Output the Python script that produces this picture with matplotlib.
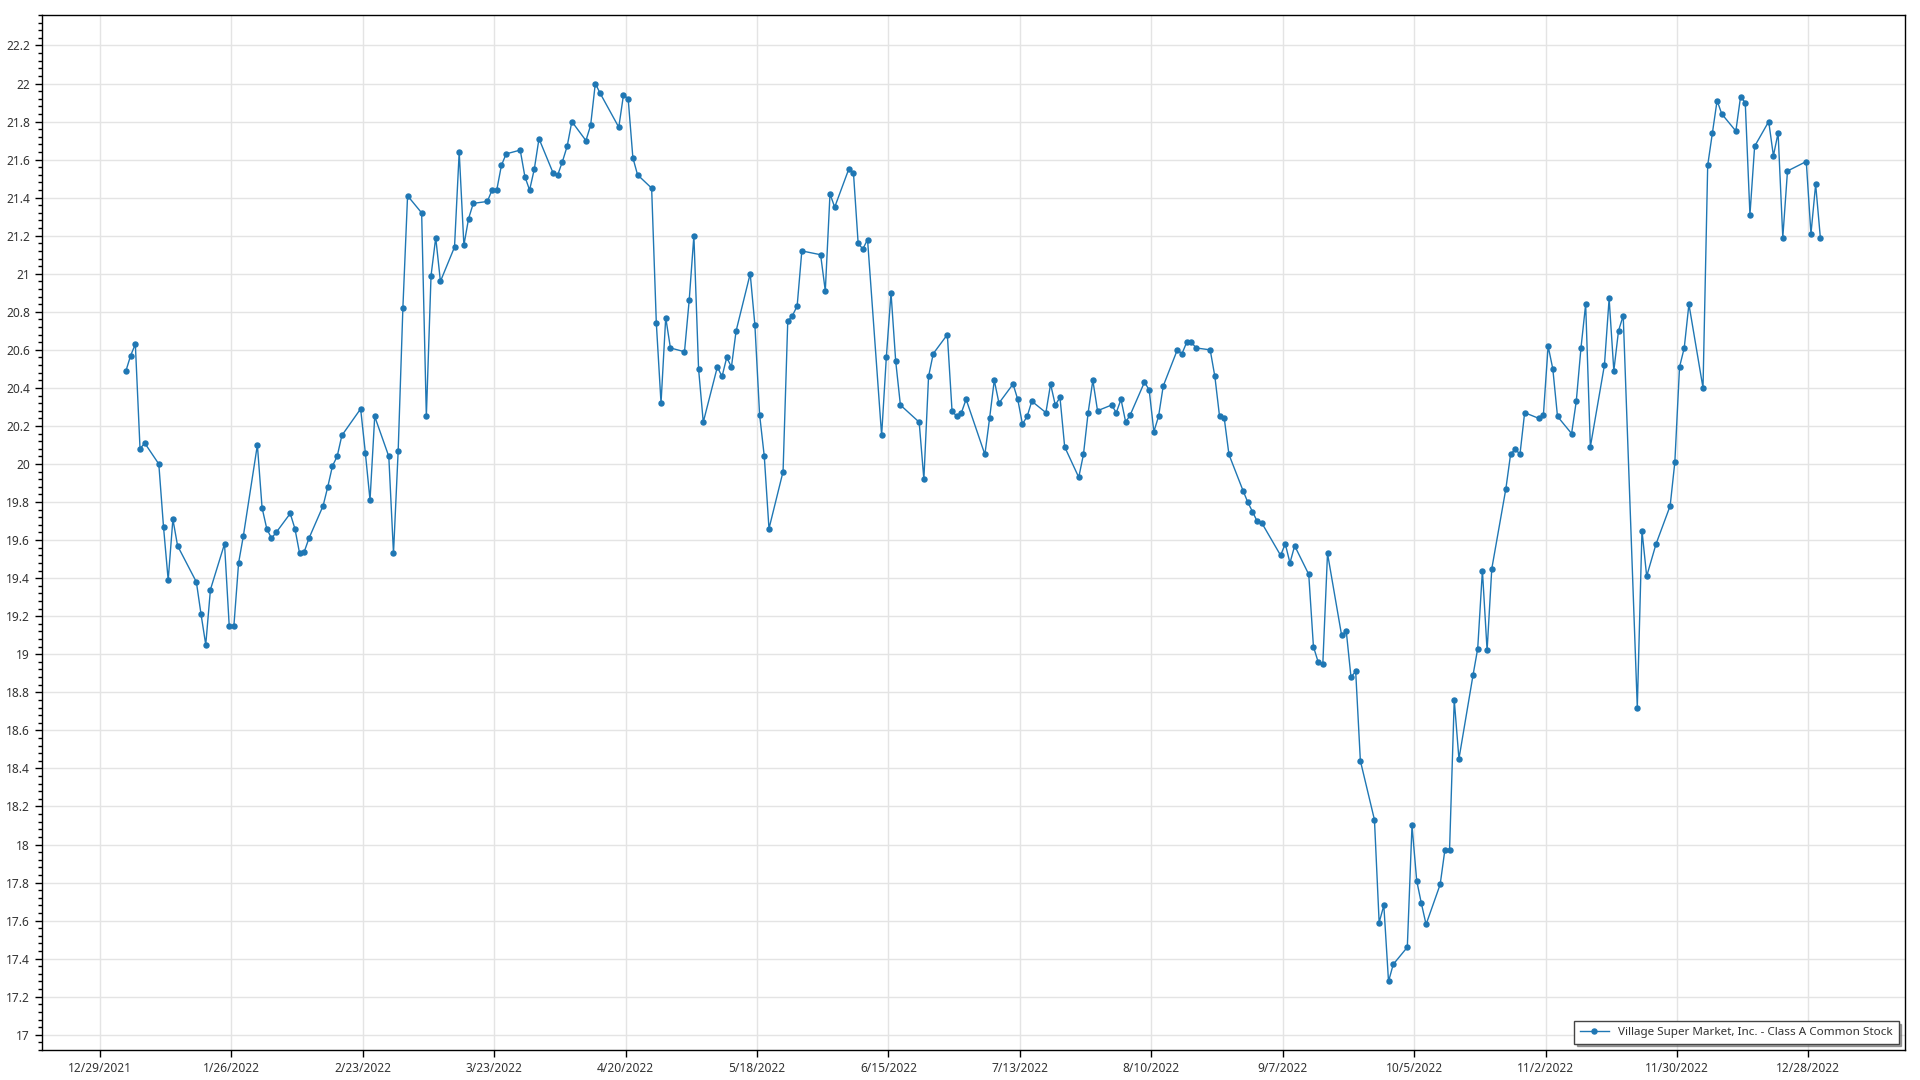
import pandas as pd
import matplotlib
matplotlib.use('Agg')
import matplotlib.pyplot as plt
from matplotlib.ticker import FuncFormatter, MultipleLocator

plt.rcParams['font.family'] = ['Noto Sans', 'DejaVu Sans']

# closing prices by month (trading days only)
jan = [20.49, 20.57, 20.63, 20.08, 20.11, 20.00, 19.67, 19.39, 19.71, 19.57,
       19.38, 19.21, 19.05, 19.34, 19.58, 19.15, 19.15, 19.48, 19.62, 20.10]
feb = [19.77, 19.66, 19.61, 19.64, 19.74, 19.66, 19.53, 19.54, 19.61, 19.78,
       19.88, 19.99, 20.04, 20.15, 20.29, 20.06, 19.81, 20.25, 20.04]
mar = [19.53, 20.07, 20.82, 21.41, 21.32, 20.25, 20.99, 21.19, 20.96, 21.14,
       21.64, 21.15, 21.29, 21.37, 21.38, 21.44, 21.44, 21.57, 21.63, 21.65,
       21.51, 21.44, 21.55]
apr = [21.71, 21.53, 21.52, 21.59, 21.67, 21.80, 21.70, 21.78, 22.00, 21.95,
       21.77, 21.94, 21.92, 21.61, 21.52, 21.45, 20.74, 20.32, 20.77, 20.61]
may = [20.59, 20.86, 21.20, 20.50, 20.22, 20.51, 20.46, 20.56, 20.51, 20.70,
       21.00, 20.73, 20.26, 20.04, 19.66, 19.96, 20.75, 20.78, 20.83, 21.12,
       21.10]
jun = [20.91, 21.42, 21.35, 21.55, 21.53, 21.16, 21.13, 21.18, 20.15, 20.56,
       20.90, 20.54, 20.31, 20.22, 19.92, 20.46, 20.58, 20.68, 20.28, 20.25,
       20.27]
jul = [20.34, 20.05, 20.24, 20.44, 20.32, 20.42, 20.34, 20.21, 20.25, 20.33,
       20.27, 20.42, 20.31, 20.35, 20.09, 19.93, 20.05, 20.27, 20.44, 20.28]
aug = [20.31, 20.27, 20.34, 20.22, 20.26, 20.43, 20.39, 20.17, 20.25, 20.41,
       20.60, 20.58, 20.64, 20.64, 20.61, 20.60, 20.46, 20.25, 20.24, 20.05,
       19.86, 19.80, 19.75]
sep = [19.70, 19.69, 19.52, 19.58, 19.48, 19.57, 19.42, 19.04, 18.96, 18.95,
       19.53, 19.10, 19.12, 18.88, 18.91, 18.44, 18.13, 17.59, 17.68, 17.28,
       17.37]
oct = [17.46, 18.10, 17.81, 17.69, 17.58, 17.79, 17.97, 17.97, 18.76, 18.45,
       18.89, 19.03, 19.44, 19.02, 19.45, 19.87, 20.05, 20.08, 20.05, 20.27,
       20.24]
nov = [20.26, 20.62, 20.50, 20.25, 20.16, 20.33, 20.61, 20.84, 20.09, 20.52,
       20.87, 20.49, 20.70, 20.78, 18.72, 19.65, 19.41, 19.58, 19.78, 20.01,
       20.51]
dec = [20.61, 20.84, 20.40, 21.57, 21.74, 21.91, 21.84, 21.75, 21.93, 21.90,
       21.31, 21.67, 21.80, 21.62, 21.74, 21.19, 21.54, 21.59, 21.21, 21.47,
       21.19]

holidays = ['2022-01-17', '2022-02-21', '2022-04-15', '2022-05-30', '2022-06-20',
            '2022-07-04', '2022-09-05', '2022-11-24', '2022-12-26']

label = 'Village Super Market, Inc. - Class A Common Stock'

prices = jan + feb + mar + apr + may + jun + jul + aug + sep + oct + nov + dec
days = pd.bdate_range('2022-01-03', '2022-12-30')
days = days[~days.isin(pd.to_datetime(holidays))]
df = pd.DataFrame({'price': prices}, index=days + pd.Timedelta(hours=13))

fig = plt.figure(figsize=(19.2, 10.8), dpi=100)
ax = fig.add_axes([0.0217, 0.0278, 0.9705, 0.9583])

ax.plot(df.index, df['price'], color='#1f77b4', linewidth=1.0,
        marker='o', markersize=3.6, label=label)

ticks = pd.date_range('2021-12-29', periods=14, freq='28D')
ax.set_xticks(ticks)
ax.set_xticklabels([f'{d.month}/{d.day}/{d.year}' for d in ticks])
ax.set_xlim(pd.Timestamp('2021-12-16 14:00'), pd.Timestamp('2023-01-17 14:00'))

ax.set_ylim(16.92, 22.36)
ax.yaxis.set_major_locator(MultipleLocator(0.2))
ax.yaxis.set_minor_locator(MultipleLocator(0.04))
ax.yaxis.set_major_formatter(FuncFormatter(lambda v, p: f'{round(v, 2):g}'))

ax.grid(True, which='major', color='#e4e4e4', linewidth=1.0)
ax.set_axisbelow(True)
ax.tick_params(axis='both', which='major', labelsize=8.6, labelcolor='#333333',
               length=5, width=1)
ax.tick_params(axis='y', which='minor', length=3, width=1)
for s in ax.spines.values():
    s.set_color('black')
    s.set_linewidth(1.0)

leg = ax.legend(loc='lower right', fontsize=8.4, fancybox=False, shadow=True,
                borderaxespad=0.55, borderpad=0.5, handlelength=2.5)
leg.get_frame().set_edgecolor('#444444')
leg.get_frame().set_linewidth(1.0)
for t in leg.get_texts():
    t.set_color('#333333')

fig.savefig('out.png', dpi=100)
